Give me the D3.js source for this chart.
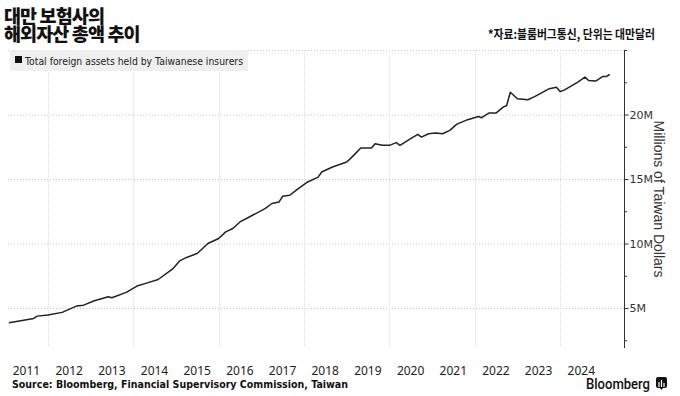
<!DOCTYPE html>
<html>
<head>
<meta charset="utf-8">
<script src="https://cdn.jsdelivr.net/npm/d3@7"></script>
<style>
  body { margin: 0; background: #fff; }
  svg { display: block; }
</style>
</head>
<body>
<svg id="chart" width="680" height="396"></svg>
<script>
// monthly readings (vertices of the line), millions of TWD
const months = [
    '2011-02', '2011-05', '2011-09', '2011-10', '2012-01', '2012-05', '2012-09', '2012-11',
    '2013-02', '2013-06', '2013-07', '2013-11', '2014-02', '2014-05', '2014-08', '2014-12',
    '2015-02', '2015-04', '2015-07', '2015-10', '2016-01', '2016-03', '2016-05', '2016-07',
    '2016-10', '2017-02', '2017-04', '2017-06', '2017-07', '2017-09', '2017-11', '2018-02',
    '2018-05', '2018-06', '2018-09', '2019-01', '2019-02', '2019-03', '2019-05', '2019-08',
    '2019-09', '2019-11', '2020-01', '2020-03', '2020-04', '2020-07', '2020-09', '2020-10',
    '2020-12', '2021-02', '2021-04', '2021-06', '2021-08', '2021-11', '2022-02', '2022-03',
    '2022-05', '2022-07', '2022-09', '2022-10', '2022-11', '2023-01', '2023-04', '2023-06',
    '2023-10', '2023-12', '2024-01', '2024-02', '2024-06', '2024-08', '2024-09', '2024-11',
    '2025-01', '2025-02', '2025-03'
];
const values = [
    3.85, 4.0, 4.19, 4.37, 4.45, 4.66, 5.15, 5.22,
    5.56, 5.87, 5.79, 6.21, 6.70, 6.95, 7.21, 8.01,
    8.65, 8.92, 9.22, 10.0, 10.39, 10.9, 11.16, 11.67,
    12.11, 12.71, 13.1, 13.22, 13.66, 13.74, 14.18, 14.77,
    15.15, 15.54, 15.93, 16.32, 16.58, 16.83, 17.40, 17.40,
    17.74, 17.61, 17.61, 17.82, 17.61, 18.13, 18.46, 18.25,
    18.51, 18.56, 18.51, 18.77, 19.25, 19.6, 19.85, 19.75,
    20.11, 20.11, 20.57, 20.70, 21.73, 21.22, 21.14, 21.40,
    22.0, 22.12, 21.79, 21.87, 22.51, 22.90, 22.64, 22.59,
    22.95, 22.95, 23.1
];
const yearLabels = ['2011', '2012', '2013', '2014', '2015', '2016', '2017', '2018',
    '2019', '2020', '2021', '2022', '2023', '2024'];
const gridYears = [2012, 2014, 2016, 2018, 2020, 2022, 2024];
const yTicks = [5, 10, 15, 20];

const parseMonth = d3.timeParse('%Y-%m');
const points = months.map((m, i) => ({ date: parseMonth(m), value: values[i] }));

const svg = d3.select('#chart');
const plotTop = 50, plotBottom = 348, axisX = 624;

const x = d3.scaleTime()
    .domain([new Date(2011, 0, 1), new Date(2025, 6, 1)])
    .range([5.3, axisX]);
const y = d3.scaleLinear().domain([0, 25]).range([372.5, plotTop]);

// grid
svg.append('g').selectAll('line').data(yTicks.concat([25])).enter().append('line')
    .attr('x1', 8).attr('x2', axisX)
    .attr('y1', (d) => y(d) + 0.5).attr('y2', (d) => y(d) + 0.5)
    .attr('stroke', '#c8c8c8').attr('stroke-dasharray', '1,2');

svg.append('g').selectAll('line').data(gridYears).enter().append('line')
    .attr('x1', (d) => Math.round(x(new Date(d, 0, 1))) + 0.5)
    .attr('x2', (d) => Math.round(x(new Date(d, 0, 1))) + 0.5)
    .attr('y1', plotTop).attr('y2', plotBottom)
    .attr('stroke', '#dcdcdc').attr('stroke-dasharray', '1,1');

// legend
svg.append('rect').attr('x', 10).attr('y', 50).attr('width', 238).attr('height', 21)
    .attr('fill', '#efefef');
svg.append('rect').attr('x', 15).attr('y', 56).attr('width', 7).attr('height', 7)
    .attr('fill', '#111');
svg.append('text').attr('x', 25).attr('y', 64.5)
    .attr('font-family', 'DejaVu Sans').attr('font-size', 10.5)
    .attr('textLength', 218).attr('lengthAdjust', 'spacingAndGlyphs')
    .attr('fill', '#222').text('Total foreign assets held by Taiwanese insurers');

// line
const line = d3.line().x((d) => x(d.date)).y((d) => y(d.value));
svg.append('path').datum(points).attr('d', line)
    .attr('fill', 'none').attr('stroke', '#222').attr('stroke-width', 1.5)
    .attr('stroke-linejoin', 'round');

// y axis on the right
const yAxis = d3.axisRight(y).tickValues(yTicks).tickSize(4).tickFormat((d) => d + 'M');
const yg = svg.append('g').attr('transform', `translate(${axisX + 0.5},0)`).call(yAxis);
yg.select('.domain').remove();
yg.selectAll('text').attr('font-family', 'DejaVu Sans').attr('font-size', 11)
    .attr('fill', '#333').attr('x', 5);
yg.selectAll('line').attr('stroke', '#333');
svg.append('line').attr('x1', axisX + 0.5).attr('x2', axisX + 0.5)
    .attr('y1', plotTop).attr('y2', plotBottom).attr('stroke', '#333').attr('stroke-width', 1);
svg.append('g').selectAll('line').data([2.5, 7.5, 12.5, 17.5, 22.5, 25]).enter().append('line')
    .attr('x1', axisX).attr('x2', axisX + 3)
    .attr('y1', (d) => y(d) + 0.5).attr('y2', (d) => y(d) + 0.5)
    .attr('stroke', '#333');

svg.append('text')
    .attr('transform', `translate(654,199) rotate(90)`)
    .attr('text-anchor', 'middle')
    .attr('font-family', 'Liberation Sans').attr('font-size', 14)
    .attr('fill', '#333').text('Millions of Taiwan Dollars');

// x labels at mid-year
svg.append('g').selectAll('text').data(yearLabels).enter().append('text')
    .attr('x', (d) => x(new Date(+d, 6, 1)))
    .attr('y', 375)
    .attr('text-anchor', 'middle')
    .attr('font-family', 'Noto Sans').attr('font-size', 12)
    .attr('fill', '#222').text((d) => d);

// titles (two tight lines, as in the original)
svg.append('text').attr('x', 4).attr('y', 22.5)
    .attr('font-family', 'Noto Sans CJK KR').attr('font-weight', 900)
    .attr('font-size', 18.5).attr('letter-spacing', '-0.9').attr('fill', '#111')
    .text('대만 보험사의');
svg.append('text').attr('x', 4).attr('y', 41)
    .attr('font-family', 'Noto Sans CJK KR').attr('font-weight', 900)
    .attr('font-size', 18.5).attr('letter-spacing', '-0.9').attr('fill', '#111')
    .text('해외자산 총액 추이');

svg.append('text').attr('x', 655).attr('y', 39).attr('text-anchor', 'end')
    .attr('font-family', 'Noto Sans CJK KR').attr('font-weight', 700).attr('font-size', 12.5)
    .attr('textLength', 167).attr('lengthAdjust', 'spacingAndGlyphs')
    .attr('fill', '#111').text('*자료:블룸버그통신, 단위는 대만달러');

// footer
svg.append('text').attr('x', 12).attr('y', 388)
    .attr('font-family', 'DejaVu Sans').attr('font-weight', 'bold').attr('font-size', 10)
    .attr('textLength', 336).attr('lengthAdjust', 'spacingAndGlyphs')
    .attr('fill', '#111').text('Source: Bloomberg, Financial Supervisory Commission, Taiwan');

svg.append('text').attr('x', 586).attr('y', 389)
    .attr('font-family', 'Roboto').attr('font-weight', 500).attr('font-size', 14)
    .attr('textLength', 64).attr('lengthAdjust', 'spacingAndGlyphs')
    .attr('fill', '#111').text('Bloomberg');

const logo = svg.append('g').attr('transform', 'translate(656,377)');
logo.append('rect').attr('width', 11).attr('height', 11).attr('rx', 2).attr('fill', '#111');
logo.append('path').attr('d', 'M3,10V5 M5.5,10V3 M8,10V6').attr('stroke', '#fff').attr('stroke-width', 1.2);
logo.append('path').attr('d', 'M4,11L5.5,13L7,11Z').attr('fill', '#111');
</script>
</body>
</html>
